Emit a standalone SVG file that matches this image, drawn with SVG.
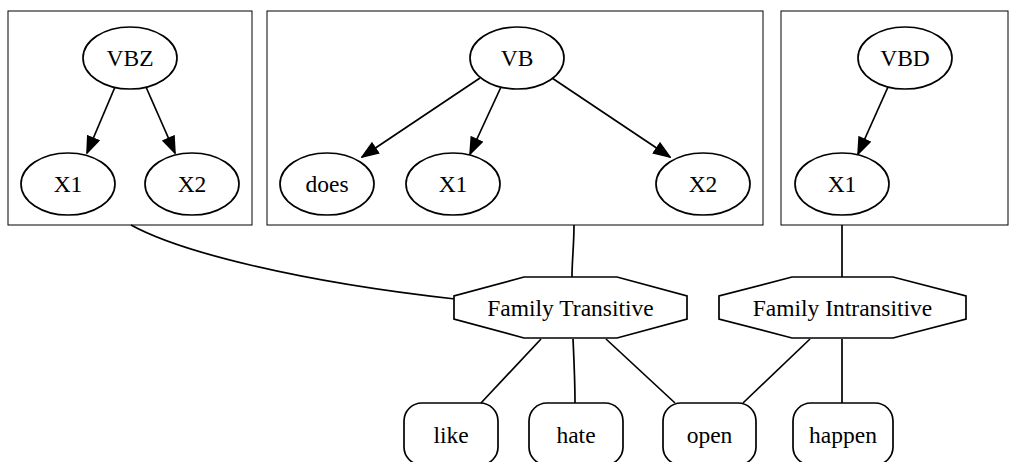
<svg xmlns="http://www.w3.org/2000/svg" width="1016" height="462" viewBox="0 0 1016 462">
  <style>
    .cluster { fill: none; stroke: #000; stroke-width: 1; }
    .node { fill: #fff; stroke: #000; stroke-width: 1.7; }
    .edge { fill: none; stroke: #000; stroke-width: 1.7; }
    text { font-family: "Liberation Serif", "Times New Roman", serif; font-size: 23.5px; fill: #000; text-anchor: middle; }
  </style>
  <defs>
    <marker id="arrow" markerUnits="userSpaceOnUse" markerWidth="18" markerHeight="14" viewBox="0 0 18 14" refX="17" refY="7" orient="auto">
      <path d="M1,1 L17,7 L1,13 Z" fill="#000" stroke="#000" stroke-width="1.5"/>
    </marker>
  </defs>
  <rect width="1016" height="462" fill="#fff"/>

  <!-- clusters -->
  <g id="cluster_vbz"><rect class="cluster" x="8" y="11" width="244" height="214"/></g>
  <g id="cluster_vb"><rect class="cluster" x="267" y="11" width="496" height="214"/></g>
  <g id="cluster_vbd"><rect class="cluster" x="781" y="11" width="227" height="214"/></g>

  <!-- connectors -->
  <g id="edges">
    <line class="edge" x1="115" y1="87" x2="87" y2="153" marker-end="url(#arrow)"/>
    <line class="edge" x1="146" y1="87" x2="175" y2="153" marker-end="url(#arrow)"/>
    <line class="edge" x1="480" y1="78" x2="362" y2="157" marker-end="url(#arrow)"/>
    <line class="edge" x1="501" y1="87" x2="470" y2="154" marker-end="url(#arrow)"/>
    <line class="edge" x1="552" y1="78" x2="670" y2="157" marker-end="url(#arrow)"/>
    <line class="edge" x1="888" y1="87" x2="858" y2="154" marker-end="url(#arrow)"/>
    <path class="edge" d="M131,225 C180,252 300,282 455,299"/>
    <path class="edge" d="M574,225 C574,245 572,260 572,277"/>
    <path class="edge" d="M842,225 L842,278"/>
    <path class="edge" d="M541,339 L481,403"/>
    <path class="edge" d="M573,339 C574,360 575,385 575,403"/>
    <path class="edge" d="M606,339 L675,403"/>
    <path class="edge" d="M810,339 L743,403"/>
    <path class="edge" d="M842,339 L842,403"/>
  </g>

  <!-- VBZ cluster nodes -->
  <g id="vbz"><ellipse class="node" cx="130" cy="58" rx="47" ry="31"/><text x="130" y="66">VBZ</text></g>
  <g id="vbz_x1"><ellipse class="node" cx="68" cy="184" rx="47" ry="31"/><text x="68" y="192">X1</text></g>
  <g id="vbz_x2"><ellipse class="node" cx="192" cy="184" rx="47" ry="31"/><text x="192" y="192">X2</text></g>

  <!-- VB cluster nodes -->
  <g id="vb"><ellipse class="node" cx="517" cy="58" rx="47" ry="31"/><text x="517" y="66">VB</text></g>
  <g id="vb_does"><ellipse class="node" cx="327" cy="184" rx="47" ry="31"/><text x="327" y="192">does</text></g>
  <g id="vb_x1"><ellipse class="node" cx="453" cy="184" rx="47" ry="31"/><text x="453" y="192">X1</text></g>
  <g id="vb_x2"><ellipse class="node" cx="703" cy="184" rx="47" ry="31"/><text x="703" y="192">X2</text></g>

  <!-- VBD cluster nodes -->
  <g id="vbd"><ellipse class="node" cx="905" cy="58" rx="47" ry="31"/><text x="905" y="66">VBD</text></g>
  <g id="vbd_x1"><ellipse class="node" cx="842" cy="184" rx="47" ry="31"/><text x="842" y="192">X1</text></g>

  <!-- families -->
  <g id="family_transitive">
    <polygon class="node" points="524,277 617,277 687,296 687,319 617,338 524,338 454,319 454,296"/>
    <text x="570.5" y="316">Family Transitive</text>
  </g>
  <g id="family_intransitive">
    <polygon class="node" points="792,277 893,277 966,296 966,319 893,338 792,338 719,319 719,296"/>
    <text x="842.5" y="316">Family Intransitive</text>
  </g>

  <!-- verbs -->
  <g id="like"><rect class="node" x="404" y="403" width="94" height="62" rx="18" ry="18"/><text x="451" y="443">like</text></g>
  <g id="hate"><rect class="node" x="529" y="403" width="94" height="62" rx="18" ry="18"/><text x="576" y="443">hate</text></g>
  <g id="open"><rect class="node" x="663" y="403" width="93" height="62" rx="18" ry="18"/><text x="709.5" y="443">open</text></g>
  <g id="happen"><rect class="node" x="793" y="403" width="100" height="62" rx="18" ry="18"/><text x="843" y="443">happen</text></g>
</svg>
